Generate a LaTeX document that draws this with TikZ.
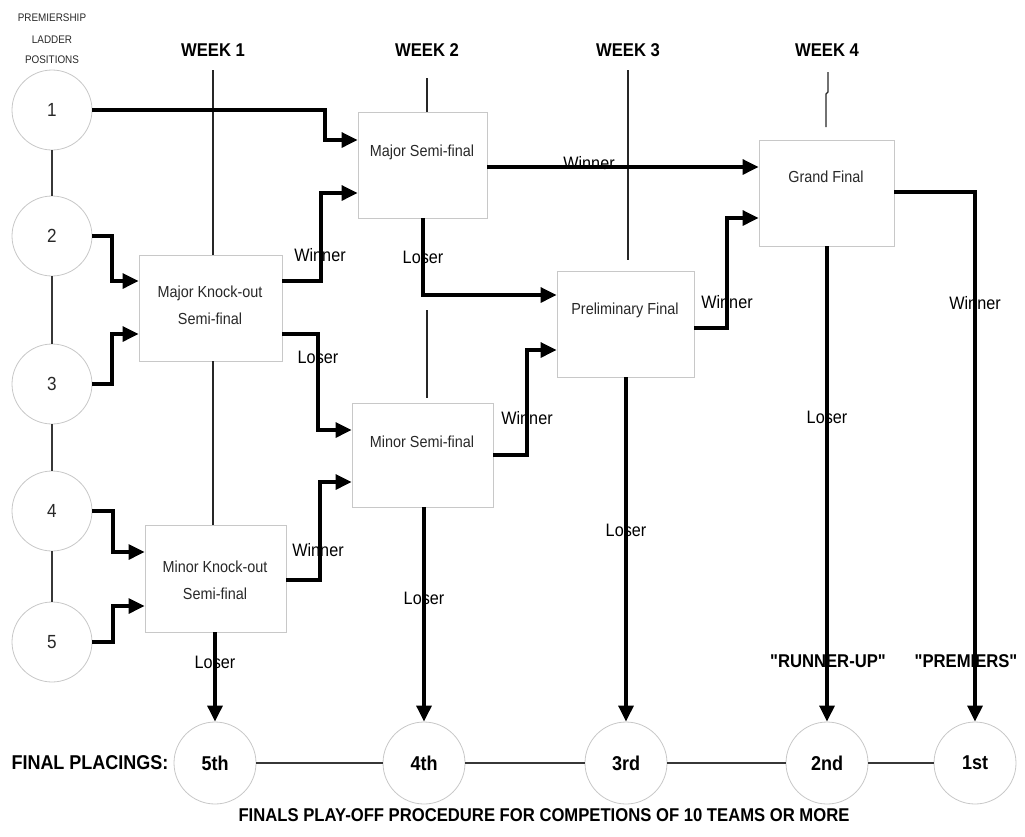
\documentclass[tikz,border=0pt]{standalone}
\usepackage{fontspec}
\setmainfont{Liberation Sans}[FakeStretch=0.9]
\newfontfamily\plainq{Liberation Sans}[FakeStretch=0.9]
\usetikzlibrary{arrows.meta}
\definecolor{boxgray}{RGB}{200,200,200}
\definecolor{conngray}{RGB}{55,55,55}
\definecolor{txtgray}{RGB}{40,40,40}
\begin{document}
\begin{tikzpicture}[x=1pt,y=-1pt,
  circ/.style={circle, draw=boxgray, line width=0.8pt, fill=white, minimum size=80pt, inner sep=0pt, text=txtgray, font=\fontsize{19}{19}\selectfont},
  pcirc/.style={circle, draw=boxgray, line width=0.8pt, fill=white, minimum size=82pt, inner sep=0pt, font=\bfseries\fontsize{20}{20}\selectfont},
  box/.style={rectangle, draw=boxgray, line width=0.8pt, fill=white, inner sep=0pt},
  btxt/.style={text=txtgray, align=center, font=\fontsize{16}{27}\selectfont, inner sep=0pt},
  lbl/.style={font=\fontsize{18}{18}\selectfont, inner sep=0pt},
  week/.style={font=\bfseries\fontsize{18.5}{18.5}\selectfont, inner sep=0pt},
  quoted/.style={font=\plainq\bfseries\fontsize{18.5}{18.5}\selectfont, inner sep=0pt},
  hsmall/.style={font=\fontsize{11}{11}\selectfont, text=txtgray, inner sep=0pt},
  bigbold/.style={font=\bfseries\fontsize{20}{20}\selectfont, inner sep=0pt},
  wk/.style={line width=1.3pt, draw=black!85},
  conn/.style={line width=1.3pt, draw=conngray},
  arr/.style={line width=3.1pt, line join=miter, -{Triangle[length=16pt,width=15pt]}}
]
\useasboundingbox (0,0) rectangle (1025,836);

% header texts
\node[hsmall] (hp) at (52,18) {PREMIERSHIP};
\node[hsmall] (hl) at (52,40) {LADDER};
\node[hsmall] (hpo) at (52,60) {POSITIONS};
\node[week] (w1) at (213,50) {WEEK 1};
\node[week] (w2) at (427,50) {WEEK 2};
\node[week] (w3) at (628,50) {WEEK 3};
\node[week] (w4) at (827,50) {WEEK 4};

% left circles
\node[circ] (c1) at (52,110) {1};
\node[circ] (c2) at (52,236) {2};
\node[circ] (c3) at (52,384) {3};
\node[circ] (c4) at (52,511) {4};
\node[circ] (c5) at (52,642) {5};

% bottom circles
\node[pcirc] (p5) at (215,763) {5th};
\node[pcirc] (p4) at (424,763) {4th};
\node[pcirc] (p3) at (626,763) {3rd};
\node[pcirc] (p2) at (827,763) {2nd};
\node[pcirc] (p1) at (975,763) {1st};

% boxes
\node[box, minimum width=129pt, minimum height=106pt] (msf) at (422.5,165) {};
\node[box, minimum width=143pt, minimum height=106pt] (mko) at (210.5,308) {};
\node[box, minimum width=141pt, minimum height=107pt] (nko) at (215.5,578.5) {};
\node[box, minimum width=141pt, minimum height=104pt] (nsf) at (422.5,455) {};
\node[box, minimum width=137pt, minimum height=106pt] (pf) at (625.5,324) {};
\node[box, minimum width=135pt, minimum height=106pt] (gf) at (826.5,193) {};

% box texts
\node[btxt] (tmsf) at (422,152) {Major Semi-final};
\node[btxt] (tmko) at (210,305) {Major Knock-out\\Semi-final};
\node[btxt] (tnko) at (215,580) {Minor Knock-out\\Semi-final};
\node[btxt] (tnsf) at (422,442) {Minor Semi-final};
\node[btxt] (tpf) at (625,310) {Preliminary Final};
\node[btxt] (tgf) at (826,177) {Grand Final};

% connecting thin lines
\draw[conn] (c1.south) -- (c2.north);
\draw[conn] (c2.south) -- (c3.north);
\draw[conn] (c3.south) -- (c4.north);
\draw[conn] (c4.south) -- (c5.north);
\draw[conn] (p5.east) -- (p4.west);
\draw[conn] (p4.east) -- (p3.west);
\draw[conn] (p3.east) -- (p2.west);
\draw[conn] (p2.east) -- (p1.west);

% week guide lines
\draw[wk] (213,70) -- (mko.north -| 213,0);
\draw[wk] (mko.south -| 213,0) -- (nko.north -| 213,0);
\draw[wk] (427,78) -- (msf.north -| 427,0);
\draw[wk] (427,310) -- (427,398);
\draw[wk] (628,70) -- (628,260);
\draw[wk] (828,72) -- (828,92) -- (826,94) -- (826,127);

% arrows
\draw[arr] (c1.east) -- (325,110) -- (325,140) -- (msf.west |- 0,140);
\draw[arr] (c2.east) -- (112,236) -- (112,281) -- (mko.west |- 0,281);
\draw[arr] (c3.east) -- (112,384) -- (112,334) -- (mko.west |- 0,334);
\draw[arr] (c4.east) -- (113,511) -- (113,552) -- (nko.west |- 0,552);
\draw[arr] (c5.east) -- (113,642) -- (113,606) -- (nko.west |- 0,606);
\draw[arr] (mko.east |- 0,281) -- (321,281) -- (321,193) -- (msf.west |- 0,193);
\draw[arr] (mko.east |- 0,334) -- (318,334) -- (318,430) -- (nsf.west |- 0,430);
\draw[arr] (nko.east |- 0,580) -- (320,580) -- (320,482) -- (nsf.west |- 0,482);
\draw[arr] (msf.east |- 0,167) -- (gf.west |- 0,167);
\draw[arr] (msf.south -| 423,0) -- (423,295) -- (pf.west |- 0,295);
\draw[arr] (nsf.east |- 0,455) -- (527,455) -- (527,350) -- (pf.west |- 0,350);
\draw[arr] (pf.east |- 0,328) -- (727,328) -- (727,218) -- (gf.west |- 0,218);
\draw[arr] (gf.east |- 0,192) -- (975,192) -- (p1.north);
\draw[arr] (gf.south -| 827,0) -- (p2.north);
\draw[arr] (pf.south -| 626,0) -- (p3.north);
\draw[arr] (nsf.south -| 424,0) -- (p4.north);
\draw[arr] (nko.south -| 215,0) -- (p5.north);

% labels
\node[lbl] (lw1) at (320,255) {Winner};
\node[lbl] (ll1) at (318,357) {Loser};
\node[lbl] (lw2) at (318,550) {Winner};
\node[lbl] (ll2) at (423,257) {Loser};
\node[lbl] (lw3) at (589,163) {Winner};
\node[lbl] (lw4) at (527,418) {Winner};
\node[lbl] (lw5) at (727,302) {Winner};
\node[lbl] (ll3) at (424,598) {Loser};
\node[lbl] (ll4) at (626,530) {Loser};
\node[lbl] (ll5) at (827,417) {Loser};
\node[lbl] (lw6) at (975,303) {Winner};
\node[lbl] (ll6) at (215,662) {Loser};

\node[quoted] (ru) at (828,661) {"RUNNER-UP"};
\node[quoted] (pr) at (966,661) {"PREMIERS"};
\node[bigbold] (fp) at (90,763) {FINAL PLACINGS:};
\node[week, font=\bfseries\fontsize{18.5}{18.5}\selectfont] (title) at (544,815) {FINALS PLAY-OFF PROCEDURE FOR COMPETIONS OF 10 TEAMS OR MORE};
\end{tikzpicture}
\end{document}
